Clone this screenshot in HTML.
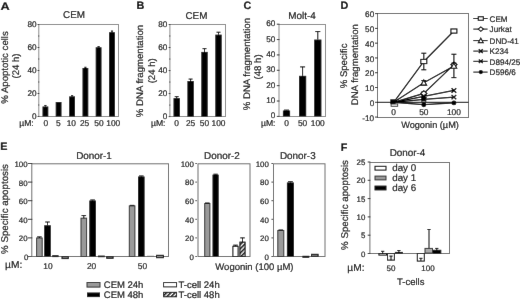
<!DOCTYPE html>
<html><head><meta charset="utf-8"><style>
html,body{margin:0;padding:0;background:#fff;}
body{width:520px;height:299px;overflow:hidden;}
svg{display:block;font-family:"Liberation Sans", sans-serif;will-change:transform;text-rendering:geometricPrecision;}
text{stroke:#111;stroke-width:0.2px;}
</style></head><body>
<svg width="520" height="299" viewBox="0 0 520 299">
<defs><filter id="bl" x="0" y="0" width="520" height="299" filterUnits="userSpaceOnUse"><feConvolveMatrix order="3" kernelMatrix="0.0019 0.0439 0.0019 0.0439 1 0.0439 0.0019 0.0439 0.0019" edgeMode="duplicate"/></filter><pattern id="hatch" patternUnits="userSpaceOnUse" width="3" height="3" patternTransform="rotate(45)"><rect width="3" height="3" fill="#fff"/><rect width="1.5" height="3" fill="#000"/></pattern></defs>
<g filter="url(#bl)">
<rect x="0" y="0" width="520" height="299" fill="#fff"/>
<text x="0" y="0" font-size="10.8" text-anchor="start" font-weight="bold" fill="#000" transform="translate(0.6 9.7) scale(1.18 1)">A</text>
<text x="74" y="18.2" font-size="9.9" text-anchor="middle" font-weight="normal" fill="#111">CEM</text>
<rect x="38.8" y="24.5" width="79.7" height="92" fill="none" stroke="#8c8c8c" stroke-width="1"/>
<line x1="37.6" y1="116.5" x2="39.3" y2="116.5" stroke="#333" stroke-width="1"/>
<text x="36.5" y="119.05" font-size="8.2" text-anchor="end" font-weight="normal" fill="#111">0</text>
<line x1="37.6" y1="93.5" x2="39.3" y2="93.5" stroke="#333" stroke-width="1"/>
<text x="36.5" y="96.05" font-size="8.2" text-anchor="end" font-weight="normal" fill="#111">20</text>
<line x1="37.6" y1="70.5" x2="39.3" y2="70.5" stroke="#333" stroke-width="1"/>
<text x="36.5" y="73.05" font-size="8.2" text-anchor="end" font-weight="normal" fill="#111">40</text>
<line x1="37.6" y1="47.5" x2="39.3" y2="47.5" stroke="#333" stroke-width="1"/>
<text x="36.5" y="50.05" font-size="8.2" text-anchor="end" font-weight="normal" fill="#111">60</text>
<line x1="37.6" y1="24.5" x2="39.3" y2="24.5" stroke="#333" stroke-width="1"/>
<text x="36.5" y="27.05" font-size="8.2" text-anchor="end" font-weight="normal" fill="#111">80</text>
<line x1="38" y1="105" x2="39.3" y2="105" stroke="#555" stroke-width="1"/>
<line x1="38" y1="82" x2="39.3" y2="82" stroke="#555" stroke-width="1"/>
<line x1="38" y1="59" x2="39.3" y2="59" stroke="#555" stroke-width="1"/>
<line x1="38" y1="36" x2="39.3" y2="36" stroke="#555" stroke-width="1"/>
<rect x="42.5" y="106.5" width="5.8" height="10" fill="#000" stroke="none" stroke-width="1" />
<line x1="45.4" y1="106.5" x2="45.4" y2="105.46" stroke="#000" stroke-width="1"/>
<line x1="44.3" y1="105.46" x2="46.5" y2="105.46" stroke="#000" stroke-width="1"/>
<rect x="55.7" y="102.01" width="5.8" height="14.49" fill="#000" stroke="none" stroke-width="1" />
<rect x="69.2" y="96.38" width="5.8" height="20.12" fill="#000" stroke="none" stroke-width="1" />
<line x1="72.1" y1="96.38" x2="72.1" y2="95.69" stroke="#000" stroke-width="1"/>
<line x1="71" y1="95.69" x2="73.2" y2="95.69" stroke="#000" stroke-width="1"/>
<rect x="82.5" y="67.97" width="5.8" height="48.53" fill="#000" stroke="none" stroke-width="1" />
<line x1="85.4" y1="67.97" x2="85.4" y2="67.28" stroke="#000" stroke-width="1"/>
<line x1="84.3" y1="67.28" x2="86.5" y2="67.28" stroke="#000" stroke-width="1"/>
<rect x="95.7" y="47.27" width="5.8" height="69.23" fill="#000" stroke="none" stroke-width="1" />
<line x1="98.6" y1="47.27" x2="98.6" y2="46.58" stroke="#000" stroke-width="1"/>
<line x1="97.5" y1="46.58" x2="99.7" y2="46.58" stroke="#000" stroke-width="1"/>
<rect x="109.1" y="32.21" width="5.8" height="84.29" fill="#000" stroke="none" stroke-width="1" />
<line x1="112" y1="32.21" x2="112" y2="31.06" stroke="#000" stroke-width="1"/>
<line x1="110.9" y1="31.06" x2="113.1" y2="31.06" stroke="#000" stroke-width="1"/>
<text x="45.85" y="126" font-size="8.4" text-anchor="middle" font-weight="normal" fill="#111">0</text>
<text x="58.4" y="126" font-size="8.4" text-anchor="middle" font-weight="normal" fill="#111">5</text>
<text x="71.3" y="126" font-size="8.4" text-anchor="middle" font-weight="normal" fill="#111">10</text>
<text x="84.6" y="126" font-size="8.4" text-anchor="middle" font-weight="normal" fill="#111">25</text>
<text x="99" y="126" font-size="8.4" text-anchor="middle" font-weight="normal" fill="#111">50</text>
<text x="113.3" y="126" font-size="8.4" text-anchor="middle" font-weight="normal" fill="#111">100</text>
<text x="33.7" y="125.7" font-size="8.6" text-anchor="end" font-weight="normal" fill="#111">µM:</text>
<text x="7.8" y="67.5" font-size="9.6" text-anchor="middle" font-weight="normal" fill="#111" transform="rotate(-90 7.8 67.5)">% Apoptotic cells</text>
<text x="19.1" y="66" font-size="9.6" text-anchor="middle" font-weight="normal" fill="#111" transform="rotate(-90 19.1 66)">(24 h)</text>
<text x="136.4" y="9.4" font-size="10.8" text-anchor="start" font-weight="bold" fill="#000">B</text>
<text x="196.4" y="18.9" font-size="9.9" text-anchor="middle" font-weight="normal" fill="#111">CEM</text>
<rect x="169.9" y="24.5" width="55.6" height="92" fill="none" stroke="#8c8c8c" stroke-width="1"/>
<line x1="168.7" y1="116.6" x2="170.4" y2="116.6" stroke="#333" stroke-width="1"/>
<text x="167.4" y="119.15" font-size="8.2" text-anchor="end" font-weight="normal" fill="#111">0</text>
<line x1="168.7" y1="93.57" x2="170.4" y2="93.57" stroke="#333" stroke-width="1"/>
<text x="167.4" y="96.13" font-size="8.2" text-anchor="end" font-weight="normal" fill="#111">20</text>
<line x1="168.7" y1="70.55" x2="170.4" y2="70.55" stroke="#333" stroke-width="1"/>
<text x="167.4" y="73.1" font-size="8.2" text-anchor="end" font-weight="normal" fill="#111">40</text>
<line x1="168.7" y1="47.53" x2="170.4" y2="47.53" stroke="#333" stroke-width="1"/>
<text x="167.4" y="50.08" font-size="8.2" text-anchor="end" font-weight="normal" fill="#111">60</text>
<line x1="168.7" y1="24.5" x2="170.4" y2="24.5" stroke="#333" stroke-width="1"/>
<text x="167.4" y="27.05" font-size="8.2" text-anchor="end" font-weight="normal" fill="#111">80</text>
<line x1="169.1" y1="105.09" x2="170.4" y2="105.09" stroke="#555" stroke-width="1"/>
<line x1="169.1" y1="82.06" x2="170.4" y2="82.06" stroke="#555" stroke-width="1"/>
<line x1="169.1" y1="59.04" x2="170.4" y2="59.04" stroke="#555" stroke-width="1"/>
<line x1="169.1" y1="36.01" x2="170.4" y2="36.01" stroke="#555" stroke-width="1"/>
<rect x="173.5" y="98.18" width="6.4" height="18.42" fill="#000" stroke="none" stroke-width="1" />
<line x1="176.7" y1="98.18" x2="176.7" y2="96.68" stroke="#000" stroke-width="1"/>
<line x1="174.7" y1="96.68" x2="178.7" y2="96.68" stroke="#000" stroke-width="1"/>
<rect x="187.4" y="81.03" width="6.4" height="35.57" fill="#000" stroke="none" stroke-width="1" />
<line x1="190.6" y1="81.03" x2="190.6" y2="79.07" stroke="#000" stroke-width="1"/>
<line x1="188.6" y1="79.07" x2="192.6" y2="79.07" stroke="#000" stroke-width="1"/>
<rect x="201.3" y="51.9" width="6.4" height="64.7" fill="#000" stroke="none" stroke-width="1" />
<line x1="204.5" y1="51.9" x2="204.5" y2="48.68" stroke="#000" stroke-width="1"/>
<line x1="202.5" y1="48.68" x2="206.5" y2="48.68" stroke="#000" stroke-width="1"/>
<rect x="215.3" y="34.63" width="6.4" height="81.97" fill="#000" stroke="none" stroke-width="1" />
<line x1="218.5" y1="34.63" x2="218.5" y2="32.21" stroke="#000" stroke-width="1"/>
<line x1="216.5" y1="32.21" x2="220.5" y2="32.21" stroke="#000" stroke-width="1"/>
<text x="176.7" y="125.5" font-size="8.4" text-anchor="middle" font-weight="normal" fill="#111">0</text>
<text x="190.6" y="125.5" font-size="8.4" text-anchor="middle" font-weight="normal" fill="#111">25</text>
<text x="204.5" y="125.5" font-size="8.4" text-anchor="middle" font-weight="normal" fill="#111">50</text>
<text x="218.5" y="125.5" font-size="8.4" text-anchor="middle" font-weight="normal" fill="#111">100</text>
<text x="165.5" y="125.5" font-size="8.6" text-anchor="end" font-weight="normal" fill="#111">µM:</text>
<text x="143.1" y="71" font-size="9.6" text-anchor="middle" font-weight="normal" fill="#111" transform="rotate(-90 143.1 71)">% DNA fragmentation</text>
<text x="154.8" y="70.8" font-size="9.6" text-anchor="middle" font-weight="normal" fill="#111" transform="rotate(-90 154.8 70.8)">(24 h)</text>
<text x="243.6" y="9.4" font-size="10.8" text-anchor="start" font-weight="bold" fill="#000">C</text>
<text x="302" y="18.8" font-size="9.9" text-anchor="middle" font-weight="normal" fill="#111">Molt-4</text>
<rect x="279" y="24.5" width="46.5" height="92" fill="none" stroke="#8c8c8c" stroke-width="1"/>
<line x1="276.8" y1="116.4" x2="279.5" y2="116.4" stroke="#333" stroke-width="1"/>
<text x="275.3" y="118.45" font-size="8.2" text-anchor="end" font-weight="normal" fill="#111">0</text>
<line x1="276.8" y1="101.03" x2="279.5" y2="101.03" stroke="#333" stroke-width="1"/>
<text x="275.3" y="103.09" font-size="8.2" text-anchor="end" font-weight="normal" fill="#111">10</text>
<line x1="276.8" y1="85.67" x2="279.5" y2="85.67" stroke="#333" stroke-width="1"/>
<text x="275.3" y="87.72" font-size="8.2" text-anchor="end" font-weight="normal" fill="#111">20</text>
<line x1="276.8" y1="70.3" x2="279.5" y2="70.3" stroke="#333" stroke-width="1"/>
<text x="275.3" y="72.35" font-size="8.2" text-anchor="end" font-weight="normal" fill="#111">30</text>
<line x1="276.8" y1="54.93" x2="279.5" y2="54.93" stroke="#333" stroke-width="1"/>
<text x="275.3" y="56.99" font-size="8.2" text-anchor="end" font-weight="normal" fill="#111">40</text>
<line x1="276.8" y1="39.57" x2="279.5" y2="39.57" stroke="#333" stroke-width="1"/>
<text x="275.3" y="41.62" font-size="8.2" text-anchor="end" font-weight="normal" fill="#111">50</text>
<line x1="276.8" y1="24.2" x2="279.5" y2="24.2" stroke="#333" stroke-width="1"/>
<text x="275.3" y="26.25" font-size="8.2" text-anchor="end" font-weight="normal" fill="#111">60</text>
<rect x="282.9" y="110.56" width="7.2" height="5.84" fill="#000" stroke="none" stroke-width="1" />
<line x1="286.5" y1="110.56" x2="286.5" y2="110.1" stroke="#000" stroke-width="1"/>
<line x1="283.98" y1="110.1" x2="289.02" y2="110.1" stroke="#000" stroke-width="1"/>
<rect x="299" y="75.83" width="7.2" height="40.57" fill="#000" stroke="none" stroke-width="1" />
<line x1="302.6" y1="75.83" x2="302.6" y2="66.92" stroke="#000" stroke-width="1"/>
<line x1="300.08" y1="66.92" x2="305.12" y2="66.92" stroke="#000" stroke-width="1"/>
<rect x="314.2" y="39.57" width="7.2" height="76.83" fill="#000" stroke="none" stroke-width="1" />
<line x1="317.8" y1="39.57" x2="317.8" y2="31.58" stroke="#000" stroke-width="1"/>
<line x1="315.28" y1="31.58" x2="320.32" y2="31.58" stroke="#000" stroke-width="1"/>
<text x="286.5" y="126" font-size="8.4" text-anchor="middle" font-weight="normal" fill="#111">0</text>
<text x="302.6" y="126" font-size="8.4" text-anchor="middle" font-weight="normal" fill="#111">50</text>
<text x="317.8" y="126" font-size="8.4" text-anchor="middle" font-weight="normal" fill="#111">100</text>
<text x="275.5" y="126" font-size="8.6" text-anchor="end" font-weight="normal" fill="#111">µM:</text>
<text x="250.5" y="64.1" font-size="9.6" text-anchor="middle" font-weight="normal" fill="#111" transform="rotate(-90 250.5 64.1)">% DNA fragmentation</text>
<text x="260.8" y="66.9" font-size="9.6" text-anchor="middle" font-weight="normal" fill="#111" transform="rotate(-90 260.8 66.9)">(48 h)</text>
<text x="340.6" y="8.7" font-size="10.8" text-anchor="start" font-weight="bold" fill="#000">D</text>
<rect x="377.5" y="13.5" width="91" height="104" fill="none" stroke="#6e6e6e" stroke-width="1"/>
<line x1="375" y1="117.08" x2="378" y2="117.08" stroke="#333" stroke-width="1"/>
<text x="374.2" y="120.74" font-size="8.2" text-anchor="end" font-weight="normal" fill="#111">-10</text>
<line x1="375" y1="102.3" x2="378" y2="102.3" stroke="#333" stroke-width="1"/>
<text x="374.2" y="105.95" font-size="8.2" text-anchor="end" font-weight="normal" fill="#111">0</text>
<line x1="375" y1="87.52" x2="378" y2="87.52" stroke="#333" stroke-width="1"/>
<text x="374.2" y="91.17" font-size="8.2" text-anchor="end" font-weight="normal" fill="#111">10</text>
<line x1="375" y1="72.73" x2="378" y2="72.73" stroke="#333" stroke-width="1"/>
<text x="374.2" y="76.39" font-size="8.2" text-anchor="end" font-weight="normal" fill="#111">20</text>
<line x1="375" y1="57.95" x2="378" y2="57.95" stroke="#333" stroke-width="1"/>
<text x="374.2" y="61.6" font-size="8.2" text-anchor="end" font-weight="normal" fill="#111">30</text>
<line x1="375" y1="43.17" x2="378" y2="43.17" stroke="#333" stroke-width="1"/>
<text x="374.2" y="46.82" font-size="8.2" text-anchor="end" font-weight="normal" fill="#111">40</text>
<line x1="375" y1="28.38" x2="378" y2="28.38" stroke="#333" stroke-width="1"/>
<text x="374.2" y="32.04" font-size="8.2" text-anchor="end" font-weight="normal" fill="#111">50</text>
<line x1="375" y1="13.6" x2="378" y2="13.6" stroke="#333" stroke-width="1"/>
<text x="374.2" y="17.25" font-size="8.2" text-anchor="end" font-weight="normal" fill="#111">60</text>
<line x1="377.5" y1="102.3" x2="468.5" y2="102.3" stroke="#000" stroke-width="1"/>
<text x="393.7" y="115.3" font-size="8.4" text-anchor="middle" font-weight="normal" fill="#111">0</text>
<text x="423.8" y="115.3" font-size="8.4" text-anchor="middle" font-weight="normal" fill="#111">50</text>
<text x="453.9" y="115.3" font-size="8.4" text-anchor="middle" font-weight="normal" fill="#111">100</text>
<text x="430" y="128.1" font-size="9.2" text-anchor="middle" font-weight="normal" fill="#111">Wogonin (µM)</text>
<text x="347.5" y="65.9" font-size="9.6" text-anchor="middle" font-weight="normal" fill="#111" transform="rotate(-90 347.5 65.9)">% Specific</text>
<text x="357.6" y="64.7" font-size="9.6" text-anchor="middle" font-weight="normal" fill="#111" transform="rotate(-90 357.6 64.7)">DNA fragmentation</text>
<polyline points="393.7,102.3 423.8,61.5 453.9,31.04" fill="none" stroke="#000" stroke-width="1.25"/>
<line x1="423.8" y1="69.78" x2="423.8" y2="53.22" stroke="#000" stroke-width="1.1"/>
<line x1="421.3" y1="53.22" x2="426.3" y2="53.22" stroke="#000" stroke-width="1.1"/>
<line x1="421.3" y1="69.78" x2="426.3" y2="69.78" stroke="#000" stroke-width="1.1"/>
<line x1="453.9" y1="32.23" x2="453.9" y2="29.86" stroke="#000" stroke-width="1.1"/>
<line x1="451.4" y1="29.86" x2="456.4" y2="29.86" stroke="#000" stroke-width="1.1"/>
<line x1="451.4" y1="32.23" x2="456.4" y2="32.23" stroke="#000" stroke-width="1.1"/>
<polyline points="393.7,102.3 423.8,93.43 453.9,64.6" fill="none" stroke="#000" stroke-width="1.25"/>
<line x1="423.8" y1="94.91" x2="423.8" y2="91.95" stroke="#000" stroke-width="1.1"/>
<line x1="421.3" y1="91.95" x2="426.3" y2="91.95" stroke="#000" stroke-width="1.1"/>
<line x1="421.3" y1="94.91" x2="426.3" y2="94.91" stroke="#000" stroke-width="1.1"/>
<line x1="453.9" y1="66.08" x2="453.9" y2="63.12" stroke="#000" stroke-width="1.1"/>
<line x1="451.4" y1="63.12" x2="456.4" y2="63.12" stroke="#000" stroke-width="1.1"/>
<line x1="451.4" y1="66.08" x2="456.4" y2="66.08" stroke="#000" stroke-width="1.1"/>
<polyline points="393.7,102.3 423.8,82.79 453.9,65.93" fill="none" stroke="#000" stroke-width="1.25"/>
<line x1="423.8" y1="85" x2="423.8" y2="80.57" stroke="#000" stroke-width="1.1"/>
<line x1="421.3" y1="80.57" x2="426.3" y2="80.57" stroke="#000" stroke-width="1.1"/>
<line x1="421.3" y1="85" x2="426.3" y2="85" stroke="#000" stroke-width="1.1"/>
<line x1="453.9" y1="77.61" x2="453.9" y2="54.25" stroke="#000" stroke-width="1.1"/>
<line x1="451.4" y1="54.25" x2="456.4" y2="54.25" stroke="#000" stroke-width="1.1"/>
<line x1="451.4" y1="77.61" x2="456.4" y2="77.61" stroke="#000" stroke-width="1.1"/>
<polyline points="393.7,102.3 423.8,96.39 453.9,90.47" fill="none" stroke="#000" stroke-width="1.25"/>
<line x1="423.8" y1="97.86" x2="423.8" y2="94.91" stroke="#000" stroke-width="1.1"/>
<line x1="421.3" y1="94.91" x2="426.3" y2="94.91" stroke="#000" stroke-width="1.1"/>
<line x1="421.3" y1="97.86" x2="426.3" y2="97.86" stroke="#000" stroke-width="1.1"/>
<polyline points="393.7,102.3 423.8,99.34 453.9,97.13" fill="none" stroke="#000" stroke-width="1.25"/>
<line x1="423.8" y1="100.82" x2="423.8" y2="97.86" stroke="#000" stroke-width="1.1"/>
<line x1="421.3" y1="97.86" x2="426.3" y2="97.86" stroke="#000" stroke-width="1.1"/>
<line x1="421.3" y1="100.82" x2="426.3" y2="100.82" stroke="#000" stroke-width="1.1"/>
<polyline points="393.7,102.3 423.8,104.67 453.9,102.89" fill="none" stroke="#000" stroke-width="1.25"/>
<rect x="420.81" y="59.42" width="5.98" height="4.16" fill="#fff" stroke="#000" stroke-width="1.1"/>
<rect x="450.91" y="28.96" width="5.98" height="4.16" fill="#fff" stroke="#000" stroke-width="1.1"/>
<path d="M420.68 93.43 L423.8 90.83 L426.92 93.43 L423.8 96.03 Z" fill="#fff" stroke="#000" stroke-width="1.1"/>
<path d="M450.78 64.6 L453.9 62 L457.02 64.6 L453.9 67.2 Z" fill="#fff" stroke="#000" stroke-width="1.1"/>
<path d="M420.94 85.13 L423.8 79.93 L426.66 85.13 Z" fill="#fff" stroke="#000" stroke-width="1.1"/>
<path d="M451.04 68.27 L453.9 63.07 L456.76 68.27 Z" fill="#fff" stroke="#000" stroke-width="1.1"/>
<path d="M421.46 94.18 L426.14 98.6 M426.14 94.18 L421.46 98.6" fill="none" stroke="#000" stroke-width="1.4"/>
<path d="M451.56 88.26 L456.24 92.68 M456.24 88.26 L451.56 92.68" fill="none" stroke="#000" stroke-width="1.4"/>
<path d="M421.46 97.26 L426.14 101.42 M426.14 97.26 L421.46 101.42" fill="none" stroke="#000" stroke-width="1.2"/>
<path d="M451.56 95.05 L456.24 99.21 M456.24 95.05 L451.56 99.21" fill="none" stroke="#000" stroke-width="1.2"/>
<circle cx="423.8" cy="104.67" r="2.47" fill="#000"/>
<circle cx="453.9" cy="102.89" r="2.47" fill="#000"/>
<rect x="391.1" y="103.9" width="6.6" height="2.4" fill="#eee" stroke="#333" stroke-width="0.9" />
<rect x="390.3" y="99.3" width="5.2" height="4.8" fill="#000" stroke="none" stroke-width="1" />
<line x1="473.3" y1="18.5" x2="487.6" y2="18.5" stroke="#000" stroke-width="1"/>
<rect x="478.27" y="16.74" width="5.06" height="3.52" fill="#fff" stroke="#000" stroke-width="1.1"/>
<text x="489.6" y="21.8" font-size="8.1" text-anchor="start" font-weight="normal" fill="#111">CEM</text>
<line x1="473.3" y1="29.1" x2="487.6" y2="29.1" stroke="#000" stroke-width="1"/>
<path d="M478.16 29.1 L480.8 26.9 L483.44 29.1 L480.8 31.3 Z" fill="#fff" stroke="#000" stroke-width="1.1"/>
<text x="489.6" y="32.4" font-size="8.1" text-anchor="start" font-weight="normal" fill="#111">Jurkat</text>
<line x1="473.3" y1="40.6" x2="487.6" y2="40.6" stroke="#000" stroke-width="1"/>
<path d="M478.38 42.58 L480.8 38.18 L483.22 42.58 Z" fill="#fff" stroke="#000" stroke-width="1.1"/>
<text x="489.6" y="43.9" font-size="8.1" text-anchor="start" font-weight="normal" fill="#111">DND-41</text>
<line x1="473.3" y1="51.1" x2="487.6" y2="51.1" stroke="#000" stroke-width="1"/>
<path d="M478.82 49.23 L482.78 52.97 M482.78 49.23 L478.82 52.97" fill="none" stroke="#000" stroke-width="1.4"/>
<text x="489.6" y="54.4" font-size="8.1" text-anchor="start" font-weight="normal" fill="#111">K234</text>
<line x1="473.3" y1="61.3" x2="487.6" y2="61.3" stroke="#000" stroke-width="1"/>
<path d="M478.82 59.54 L482.78 63.06 M482.78 59.54 L478.82 63.06" fill="none" stroke="#000" stroke-width="1.2"/>
<text x="489.6" y="64.6" font-size="8.1" text-anchor="start" font-weight="normal" fill="#111">D894/25</text>
<line x1="473.3" y1="72.1" x2="487.6" y2="72.1" stroke="#000" stroke-width="1"/>
<circle cx="480.8" cy="72.1" r="2.09" fill="#000"/>
<text x="489.6" y="75.4" font-size="8.1" text-anchor="start" font-weight="normal" fill="#111">D596/6</text>
<text x="0.2" y="150" font-size="10.8" text-anchor="start" font-weight="bold" fill="#000">E</text>
<text x="94" y="158.8" font-size="9.9" text-anchor="middle" font-weight="normal" fill="#111">Donor-1</text>
<rect x="31.8" y="163.8" width="136.7" height="92.7" fill="none" stroke="#6e6e6e" stroke-width="1"/>
<line x1="28" y1="237.9" x2="32.3" y2="237.9" stroke="#333" stroke-width="1"/>
<text x="27.6" y="241.44" font-size="7.9" text-anchor="end" font-weight="normal" fill="#111">20</text>
<line x1="28" y1="219.3" x2="32.3" y2="219.3" stroke="#333" stroke-width="1"/>
<text x="27.6" y="222.84" font-size="7.9" text-anchor="end" font-weight="normal" fill="#111">40</text>
<line x1="28" y1="200.7" x2="32.3" y2="200.7" stroke="#333" stroke-width="1"/>
<text x="27.6" y="204.24" font-size="7.9" text-anchor="end" font-weight="normal" fill="#111">60</text>
<line x1="28" y1="182.1" x2="32.3" y2="182.1" stroke="#333" stroke-width="1"/>
<text x="27.6" y="185.64" font-size="7.9" text-anchor="end" font-weight="normal" fill="#111">80</text>
<line x1="28" y1="163.5" x2="32.3" y2="163.5" stroke="#333" stroke-width="1"/>
<text x="27.6" y="167.04" font-size="7.9" text-anchor="end" font-weight="normal" fill="#111">100</text>
<line x1="28" y1="256.5" x2="31.8" y2="256.5" stroke="#444" stroke-width="1"/>
<text x="28.3" y="260" font-size="7.9" text-anchor="end" font-weight="normal" fill="#111">0</text>
<rect x="36.6" y="237.99" width="5.6" height="18.51" fill="#9a9a9a" stroke="#333" stroke-width="1" />
<line x1="39.4" y1="237.99" x2="39.4" y2="236.88" stroke="#000" stroke-width="1"/>
<line x1="37.1" y1="236.88" x2="41.7" y2="236.88" stroke="#000" stroke-width="1"/>
<rect x="44.2" y="225.25" width="6.6" height="31.25" fill="#000" stroke="none" stroke-width="1" />
<line x1="47.5" y1="225.25" x2="47.5" y2="222" stroke="#000" stroke-width="1"/>
<line x1="45.19" y1="222" x2="49.81" y2="222" stroke="#000" stroke-width="1"/>
<rect x="52.7" y="255.7" width="5.4" height="0.9" fill="#fff" stroke="#000" stroke-width="1" />
<rect x="62" y="256.7" width="6.3" height="1.9" fill="#8a8a8a" stroke="#000" stroke-width="1" />
<rect x="81" y="218.18" width="5.6" height="38.32" fill="#9a9a9a" stroke="#333" stroke-width="1" />
<line x1="83.8" y1="218.18" x2="83.8" y2="215.58" stroke="#000" stroke-width="1"/>
<line x1="81.5" y1="215.58" x2="86.1" y2="215.58" stroke="#000" stroke-width="1"/>
<rect x="89.3" y="200.51" width="6.6" height="55.99" fill="#000" stroke="none" stroke-width="1" />
<line x1="92.6" y1="200.51" x2="92.6" y2="199.96" stroke="#000" stroke-width="1"/>
<line x1="90.29" y1="199.96" x2="94.91" y2="199.96" stroke="#000" stroke-width="1"/>
<rect x="98.5" y="256.1" width="5.8" height="0.6" fill="#fff" stroke="#000" stroke-width="1" />
<rect x="106.7" y="256.7" width="6.4" height="1.6" fill="#8a8a8a" stroke="#000" stroke-width="1" />
<rect x="129.3" y="205.91" width="5.6" height="50.59" fill="#9a9a9a" stroke="#333" stroke-width="1" />
<line x1="132.1" y1="205.91" x2="132.1" y2="205.35" stroke="#000" stroke-width="1"/>
<line x1="129.8" y1="205.35" x2="134.4" y2="205.35" stroke="#000" stroke-width="1"/>
<rect x="138" y="176.52" width="6.6" height="79.98" fill="#000" stroke="none" stroke-width="1" />
<line x1="141.3" y1="176.52" x2="141.3" y2="175.96" stroke="#000" stroke-width="1"/>
<line x1="138.99" y1="175.96" x2="143.61" y2="175.96" stroke="#000" stroke-width="1"/>
<line x1="147" y1="256.3" x2="154" y2="256.3" stroke="#666" stroke-width="1"/>
<rect x="156.5" y="255.3" width="6.9" height="2.4" fill="#8a8a8a" stroke="#000" stroke-width="1" />
<text x="48" y="268.8" font-size="8.4" text-anchor="middle" font-weight="normal" fill="#111">10</text>
<text x="91.6" y="268.8" font-size="8.4" text-anchor="middle" font-weight="normal" fill="#111">20</text>
<text x="142.4" y="268.8" font-size="8.4" text-anchor="middle" font-weight="normal" fill="#111">50</text>
<text x="22.3" y="268.2" font-size="10.2" text-anchor="end" font-weight="normal" fill="#111">µM:</text>
<text x="7.9" y="209" font-size="9.75" text-anchor="middle" font-weight="normal" fill="#111" transform="rotate(-90 7.9 209)">% Specific apoptosis</text>
<text x="221.9" y="158.8" font-size="9.9" text-anchor="middle" font-weight="normal" fill="#111">Donor-2</text>
<rect x="198" y="163.8" width="52" height="92.7" fill="none" stroke="#6e6e6e" stroke-width="1"/>
<line x1="195.4" y1="256.5" x2="196.8" y2="256.5" stroke="#333" stroke-width="1"/>
<text x="193.9" y="259.74" font-size="7.9" text-anchor="end" font-weight="normal" fill="#111">0</text>
<line x1="195.4" y1="237.9" x2="196.8" y2="237.9" stroke="#333" stroke-width="1"/>
<text x="193.9" y="241.14" font-size="7.9" text-anchor="end" font-weight="normal" fill="#111">20</text>
<line x1="195.4" y1="219.3" x2="196.8" y2="219.3" stroke="#333" stroke-width="1"/>
<text x="193.9" y="222.54" font-size="7.9" text-anchor="end" font-weight="normal" fill="#111">40</text>
<line x1="195.4" y1="200.7" x2="196.8" y2="200.7" stroke="#333" stroke-width="1"/>
<text x="193.9" y="203.94" font-size="7.9" text-anchor="end" font-weight="normal" fill="#111">60</text>
<line x1="195.4" y1="182.1" x2="196.8" y2="182.1" stroke="#333" stroke-width="1"/>
<text x="193.9" y="185.34" font-size="7.9" text-anchor="end" font-weight="normal" fill="#111">80</text>
<line x1="195.4" y1="163.5" x2="196.8" y2="163.5" stroke="#333" stroke-width="1"/>
<text x="193.9" y="166.74" font-size="7.9" text-anchor="end" font-weight="normal" fill="#111">100</text>
<rect x="204.7" y="203.49" width="5.2" height="53.01" fill="#9a9a9a" stroke="#333" stroke-width="1" />
<line x1="207.3" y1="203.49" x2="207.3" y2="203.03" stroke="#000" stroke-width="1"/>
<line x1="205" y1="203.03" x2="209.6" y2="203.03" stroke="#000" stroke-width="1"/>
<rect x="212.5" y="174.66" width="6.2" height="81.84" fill="#000" stroke="none" stroke-width="1" />
<line x1="215.6" y1="174.66" x2="215.6" y2="174.19" stroke="#000" stroke-width="1"/>
<line x1="213.43" y1="174.19" x2="217.77" y2="174.19" stroke="#000" stroke-width="1"/>
<rect x="232.9" y="246.27" width="5.2" height="10.23" fill="#fff" stroke="#000" stroke-width="1" />
<line x1="235.5" y1="246.27" x2="235.5" y2="245.15" stroke="#000" stroke-width="1"/>
<line x1="233.2" y1="245.15" x2="237.8" y2="245.15" stroke="#000" stroke-width="1"/>
<rect x="239.9" y="242.09" width="5.2" height="14.41" fill="url(#hatch)" stroke="#000" stroke-width="1" />
<line x1="242.5" y1="242.09" x2="242.5" y2="237.9" stroke="#000" stroke-width="1"/>
<line x1="240.2" y1="237.9" x2="244.8" y2="237.9" stroke="#000" stroke-width="1"/>
<text x="297.8" y="158.8" font-size="9.9" text-anchor="middle" font-weight="normal" fill="#111">Donor-3</text>
<rect x="273.5" y="163.8" width="51.5" height="92.7" fill="none" stroke="#6e6e6e" stroke-width="1"/>
<line x1="271.5" y1="256.5" x2="272.9" y2="256.5" stroke="#333" stroke-width="1"/>
<text x="268.9" y="259.74" font-size="7.9" text-anchor="end" font-weight="normal" fill="#111">0</text>
<line x1="271.5" y1="237.9" x2="272.9" y2="237.9" stroke="#333" stroke-width="1"/>
<text x="268.9" y="241.14" font-size="7.9" text-anchor="end" font-weight="normal" fill="#111">20</text>
<line x1="271.5" y1="219.3" x2="272.9" y2="219.3" stroke="#333" stroke-width="1"/>
<text x="268.9" y="222.54" font-size="7.9" text-anchor="end" font-weight="normal" fill="#111">40</text>
<line x1="271.5" y1="200.7" x2="272.9" y2="200.7" stroke="#333" stroke-width="1"/>
<text x="268.9" y="203.94" font-size="7.9" text-anchor="end" font-weight="normal" fill="#111">60</text>
<line x1="271.5" y1="182.1" x2="272.9" y2="182.1" stroke="#333" stroke-width="1"/>
<text x="268.9" y="185.34" font-size="7.9" text-anchor="end" font-weight="normal" fill="#111">80</text>
<line x1="271.5" y1="163.5" x2="272.9" y2="163.5" stroke="#333" stroke-width="1"/>
<text x="268.9" y="166.74" font-size="7.9" text-anchor="end" font-weight="normal" fill="#111">100</text>
<rect x="277.8" y="230.46" width="6" height="26.04" fill="#9a9a9a" stroke="#333" stroke-width="1" />
<line x1="280.8" y1="230.46" x2="280.8" y2="230" stroke="#000" stroke-width="1"/>
<line x1="278.5" y1="230" x2="283.1" y2="230" stroke="#000" stroke-width="1"/>
<rect x="286.9" y="182.47" width="7" height="74.03" fill="#000" stroke="none" stroke-width="1" />
<line x1="290.4" y1="182.47" x2="290.4" y2="181.73" stroke="#000" stroke-width="1"/>
<line x1="287.95" y1="181.73" x2="292.85" y2="181.73" stroke="#000" stroke-width="1"/>
<rect x="302.9" y="256.3" width="5.9" height="1" fill="#fff" stroke="#000" stroke-width="1" />
<rect x="311.5" y="254.3" width="6.6" height="2" fill="#8a8a8a" stroke="#000" stroke-width="1" />
<text x="254.4" y="270.2" font-size="9.5" text-anchor="middle" font-weight="normal" fill="#111">Wogonin (100 µM)</text>
<rect x="87" y="282.5" width="13" height="4.6" fill="#9a9a9a" stroke="#333" stroke-width="1" />
<text x="103.8" y="287.8" font-size="9.5" text-anchor="start" font-weight="normal" fill="#111">CEM 24h</text>
<rect x="87" y="292.5" width="13" height="4.6" fill="#000" stroke="none" stroke-width="1" />
<text x="103.8" y="298" font-size="9.5" text-anchor="start" font-weight="normal" fill="#111">CEM 48h</text>
<rect x="163.6" y="282.6" width="13" height="4.3" fill="#fff" stroke="#000" stroke-width="0.9" />
<text x="178.5" y="287.8" font-size="9.5" text-anchor="start" font-weight="normal" fill="#111">T-cell 24h</text>
<rect x="163.6" y="292.3" width="13" height="4.5" fill="url(#hatch)" stroke="#000" stroke-width="0.9" />
<text x="178.5" y="298" font-size="9.5" text-anchor="start" font-weight="normal" fill="#111">T-cell 48h</text>
<text x="340.8" y="150.8" font-size="10.8" text-anchor="start" font-weight="bold" fill="#000">F</text>
<text x="407.5" y="155.8" font-size="9.9" text-anchor="middle" font-weight="normal" fill="#111">Donor-4</text>
<rect x="369.9" y="162.5" width="79.6" height="91" fill="none" stroke="#6e6e6e" stroke-width="1"/>
<line x1="367.7" y1="253.5" x2="370.4" y2="253.5" stroke="#333" stroke-width="1"/>
<text x="365.3" y="256.54" font-size="7.9" text-anchor="end" font-weight="normal" fill="#111">0</text>
<line x1="367.7" y1="235.2" x2="370.4" y2="235.2" stroke="#333" stroke-width="1"/>
<text x="365.3" y="238.24" font-size="7.9" text-anchor="end" font-weight="normal" fill="#111">5</text>
<line x1="367.7" y1="216.9" x2="370.4" y2="216.9" stroke="#333" stroke-width="1"/>
<text x="365.3" y="219.94" font-size="7.9" text-anchor="end" font-weight="normal" fill="#111">10</text>
<line x1="367.7" y1="198.6" x2="370.4" y2="198.6" stroke="#333" stroke-width="1"/>
<text x="365.3" y="201.64" font-size="7.9" text-anchor="end" font-weight="normal" fill="#111">15</text>
<line x1="367.7" y1="180.3" x2="370.4" y2="180.3" stroke="#333" stroke-width="1"/>
<text x="365.3" y="183.34" font-size="7.9" text-anchor="end" font-weight="normal" fill="#111">20</text>
<line x1="367.7" y1="162" x2="370.4" y2="162" stroke="#333" stroke-width="1"/>
<text x="365.3" y="165.04" font-size="7.9" text-anchor="end" font-weight="normal" fill="#111">25</text>
<rect x="378.9" y="253.5" width="7.6" height="1.6" fill="#fff" stroke="#000" stroke-width="1" />
<line x1="382.7" y1="253" x2="382.7" y2="251.3" stroke="#000" stroke-width="1"/>
<line x1="381.1" y1="251.3" x2="384.3" y2="251.3" stroke="#000" stroke-width="1"/>
<rect x="387.5" y="253.5" width="6.9" height="6.6" fill="#f2f2f2" stroke="#000" stroke-width="1" />
<line x1="391" y1="260.2" x2="391" y2="256.1" stroke="#000" stroke-width="1"/>
<line x1="389.4" y1="256.1" x2="392.6" y2="256.1" stroke="#000" stroke-width="1"/>
<rect x="395.4" y="252.4" width="7" height="0.7" fill="#000" stroke="#000" stroke-width="1" />
<line x1="398.9" y1="252" x2="398.9" y2="250.5" stroke="#000" stroke-width="1"/>
<line x1="397.3" y1="250.5" x2="400.5" y2="250.5" stroke="#000" stroke-width="1"/>
<rect x="417.3" y="253.5" width="7" height="7.6" fill="#fff" stroke="#000" stroke-width="1" />
<line x1="420.9" y1="260.8" x2="420.9" y2="258.3" stroke="#000" stroke-width="1"/>
<line x1="419.3" y1="258.3" x2="422.5" y2="258.3" stroke="#000" stroke-width="1"/>
<rect x="425" y="248.4" width="7.5" height="4.7" fill="#aaa" stroke="#333" stroke-width="1" />
<line x1="429" y1="248" x2="429" y2="229.5" stroke="#000" stroke-width="1"/>
<line x1="427.4" y1="229.5" x2="430.6" y2="229.5" stroke="#000" stroke-width="1"/>
<rect x="433.5" y="250.3" width="7.3" height="2.8" fill="#000" stroke="#000" stroke-width="1" />
<line x1="436.8" y1="250" x2="436.8" y2="248.4" stroke="#000" stroke-width="1"/>
<line x1="435.2" y1="248.4" x2="438.4" y2="248.4" stroke="#000" stroke-width="1"/>
<text x="391" y="270.5" font-size="8" text-anchor="middle" font-weight="normal" fill="#111">50</text>
<text x="428" y="270.5" font-size="8" text-anchor="middle" font-weight="normal" fill="#111">100</text>
<text x="364.5" y="270.6" font-size="10.2" text-anchor="end" font-weight="normal" fill="#111">µM:</text>
<text x="410.7" y="284.5" font-size="9.5" text-anchor="middle" font-weight="normal" fill="#111">T-cells</text>
<text x="348.1" y="205" font-size="9.75" text-anchor="middle" font-weight="normal" fill="#111" transform="rotate(-90 348.1 205)">% Specific apoptosis</text>
<rect x="375" y="166.3" width="11" height="3.8" fill="#fff" stroke="#000" stroke-width="1" />
<text x="392.2" y="171" font-size="9.8" text-anchor="start" font-weight="normal" fill="#111">day 0</text>
<rect x="375" y="176.1" width="11" height="3.8" fill="#9a9a9a" stroke="#333" stroke-width="1" />
<text x="392.2" y="180.8" font-size="9.8" text-anchor="start" font-weight="normal" fill="#111">day 1</text>
<rect x="375" y="186.1" width="11" height="3.8" fill="#000" stroke="#000" stroke-width="1" />
<text x="392.2" y="190.8" font-size="9.8" text-anchor="start" font-weight="normal" fill="#111">day 6</text>
</g>
</svg>
</body></html>
